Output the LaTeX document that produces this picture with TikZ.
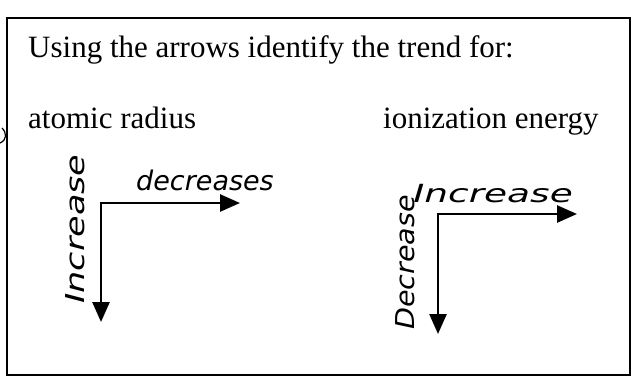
\documentclass[tikz,border=0pt]{standalone}
\usepackage{fontspec}
\setmainfont{Liberation Serif}
\newfontfamily\handfont{DejaVu Sans}
\usetikzlibrary{arrows.meta}
\begin{document}
\begin{tikzpicture}[x=1pt,y=-1pt,
  printed/.style={inner sep=0pt,anchor=base west,font=\fontsize{31}{34}\selectfont},
  hand/.style={inner sep=0pt,anchor=base west,font=\handfont\itshape},
  trendarrow/.style={line width=2.6pt,-{Triangle[length=20pt,width=17pt]}}]
\useasboundingbox (0,0) rectangle (637,383);
\draw[line width=1.8pt] (7,18) rectangle (630,375);
\node[printed] (title) at (28,57) {Using the arrows identify the trend for:};
\node[printed] (ar) at (28,128) {atomic radius};
\node[printed] (ie) at (383,128) {ionization energy};
% left diagram
\coordinate (c1) at (101,203);
\coordinate (r1) at (240,203);
\coordinate (d1) at (101,322);
\draw[trendarrow] ([xshift=-1.3pt]c1) -- (r1);
\draw[trendarrow] (c1) -- (d1);
\node[hand,font=\handfont\itshape\fontsize{27}{29}\selectfont] (dec1) at (136,190) {decreases};
\node[hand,rotate=90,xscale=1.35,font=\handfont\itshape\fontsize{26}{28}\selectfont] (inc1) at (84,304) {Increase};
% right diagram
\coordinate (c2) at (438,214);
\coordinate (r2) at (577,214);
\coordinate (d2) at (438,334);
\draw[trendarrow] ([xshift=-1.3pt]c2) -- (r2);
\draw[trendarrow] (c2) -- (d2);
\node[hand,xscale=1.5,font=\handfont\itshape\fontsize{25}{27}\selectfont] (inc2) at (413,202) {Increase};
\node[hand,rotate=90,xscale=1.1,font=\handfont\itshape\fontsize{26}{28}\selectfont] (dec2) at (414,330) {Decrease};
% stray mark at left edge
\draw[line width=1.2pt] (2,128) .. controls (7,133) and (7,140) .. (0,143);
\end{tikzpicture}
\end{document}
